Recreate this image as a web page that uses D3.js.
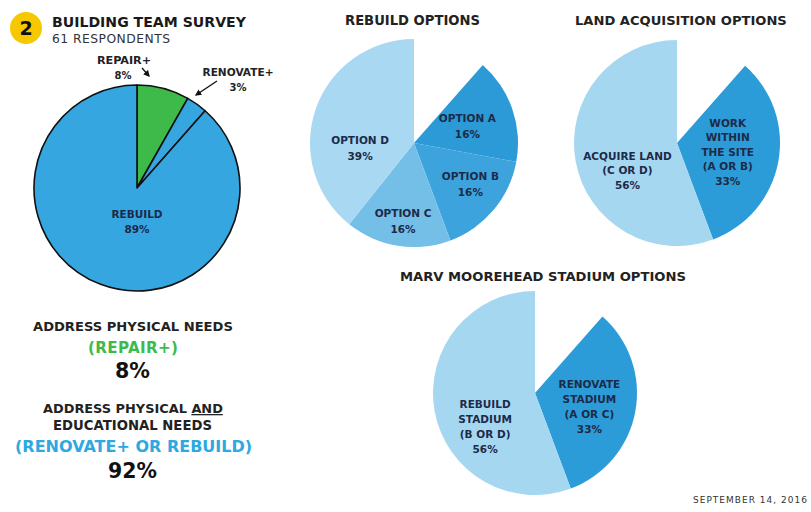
<!DOCTYPE html>
<html>
<head>
<meta charset="utf-8">
<script src="https://cdn.jsdelivr.net/npm/d3@7"></script>
<style>
  body { margin: 0; background: #fff; }
  text { font-family: "DejaVu Sans", "Open Sans", sans-serif; font-weight: 700; }
</style>
</head>
<body>
<div id="vis"></div>
<script>
// survey data (percent of 61 respondents)
const surveyCats = ["REPAIR+", "RENOVATE+", "REBUILD"];
const surveyVals = [8.2, 3.3, 88.5];

const rebuildCats = ["OPTION A", "OPTION B", "OPTION C", "OPTION D"];
const rebuildVals = [16.4, 16.4, 16.4, 39.3];

const landCats = ["WORK|WITHIN|THE SITE|(A OR B)", "ACQUIRE LAND|(C OR D)"];
const landVals = [32.8, 55.7];

const stadiumCats = ["RENOVATE|STADIUM|(A OR C)", "REBUILD|STADIUM|(B OR D)"];
const stadiumVals = [32.8, 55.7];

const W = 811, H = 512;
const navy = "#1d2a48";

const svg = d3.select("#vis").append("svg")
    .attr("width", W)
    .attr("height", H);

// grow the font a bit first, then use letter spacing for what is left,
// so the text covers about the same width as in the original
function fit(sel, w, maxScale) {
    maxScale = maxScale || 1.12;
    let node = sel.node();
    let fs = parseFloat(sel.style("font-size"));
    let natural = node.getComputedTextLength();
    let k = Math.min(Math.max(w / natural, 0.85), maxScale);
    sel.style("font-size", (fs * k).toFixed(2) + "px");
    natural = node.getComputedTextLength();
    if (Math.abs(natural - w) > 2) {
        sel.attr("textLength", w).attr("lengthAdjust", "spacing");
    }
    return sel;
}

// draws a pie that may not add up to 100, the missing part is left blank at 12 o'clock
function drawPie(cats, vals, colors, cx, cy, r, opts) {
    let total = d3.sum(vals);
    let start = opts.full ? 0 : 2 * Math.PI * (1 - total / 100);
    let pie = d3.pie().sort(null).startAngle(start).endAngle(2 * Math.PI);
    let arcs = pie(vals);
    let arc = d3.arc().innerRadius(0).outerRadius(r);

    let g = svg.append("g").attr("transform", "translate(" + cx + "," + cy + ")");
    g.selectAll("path")
        .data(arcs)
        .enter().append("path")
        .attr("d", arc)
        .attr("fill", (d, i) => colors[i])
        .attr("stroke", opts.stroke || "none")
        .attr("stroke-width", opts.stroke ? 1.6 : 0)
        .attr("stroke-linejoin", "round");

    arcs.forEach(function (d, i) {
        if (opts.skipLabel && opts.skipLabel.indexOf(i) >= 0) return;
        let lr = opts.labelR[i] * r;
        let a = opts.labelA ? opts.labelA[i] * Math.PI / 180 : (d.startAngle + d.endAngle) / 2;
        let x = Math.sin(a) * lr, y = -Math.cos(a) * lr;
        let lines = cats[i].split("|").concat([Math.round(vals[i]) + "%"]);
        let lh = opts.lineH || 15;
        let t = g.append("text")
            .attr("text-anchor", "middle")
            .attr("fill", opts.labelColor || navy)
            .style("font-size", (opts.fontSize || 10.5) + "px");
        lines.forEach(function (s, k) {
            t.append("tspan")
                .attr("x", x)
                .attr("y", y + (k - (lines.length - 1) / 2) * lh + 4)
                .text(s);
        });
    });
    return g;
}

// header
svg.append("circle").attr("cx", 26).attr("cy", 28).attr("r", 16).attr("fill", "#f6c800");
svg.append("text").attr("x", 26).attr("y", 35).attr("text-anchor", "middle")
    .style("font-size", "19px").attr("fill", "#111").text("2");
fit(svg.append("text").attr("x", 52).attr("y", 27).style("font-size", "14.5px").attr("fill", "#1a1a1a")
    .text("BUILDING TEAM SURVEY"), 194);
fit(svg.append("text").attr("x", 52).attr("y", 43).style("font-size", "11px").attr("fill", "#333")
    .style("font-weight", 400).text("61 RESPONDENTS"), 118);

// main survey pie
drawPie(surveyCats, surveyVals, ["#3dba49", "#35a6e0", "#35a6e0"], 137, 188, 103,
    {full: true, stroke: "#111", labelR: [0, 0, 0.33], labelA: [0, 0, 180], skipLabel: [0, 1], fontSize: 10.5});

// callout labels for the small slices
const callout = svg.append("g").attr("text-anchor", "middle").attr("fill", "#222").style("font-size", "10px");
fit(callout.append("text").attr("x", 124).attr("y", 64).text(surveyCats[0]), 55);
callout.append("text").attr("x", 123).attr("y", 79).text(Math.round(surveyVals[0]) + "%");
fit(callout.append("text").attr("x", 238).attr("y", 76).text(surveyCats[1]), 71);
callout.append("text").attr("x", 238).attr("y", 91).text(Math.round(surveyVals[1]) + "%");

svg.append("defs").append("marker")
    .attr("id", "ah").attr("viewBox", "0 0 10 10").attr("refX", 8).attr("refY", 5)
    .attr("markerWidth", 5).attr("markerHeight", 5).attr("orient", "auto")
    .append("path").attr("d", "M0,0L10,5L0,10z").attr("fill", "#111");
svg.append("line").attr("x1", 142).attr("y1", 68).attr("x2", 149).attr("y2", 76)
    .attr("stroke", "#111").attr("stroke-width", 1.3).attr("marker-end", "url(#ah)");
svg.append("line").attr("x1", 217).attr("y1", 81).attr("x2", 196).attr("y2", 95)
    .attr("stroke", "#111").attr("stroke-width", 1.3).attr("marker-end", "url(#ah)");

// chart titles
const titles = svg.append("g").attr("fill", "#222");
fit(titles.append("text").attr("x", 345).attr("y", 25).style("font-size", "12.5px").text("REBUILD OPTIONS"), 135);
fit(titles.append("text").attr("x", 575).attr("y", 25).style("font-size", "12.5px").text("LAND ACQUISITION OPTIONS"), 212);
fit(titles.append("text").attr("x", 400).attr("y", 281).style("font-size", "12.5px").text("MARV MOOREHEAD STADIUM OPTIONS"), 286);

// rebuild options
drawPie(rebuildCats, rebuildVals, ["#2b9ad7", "#3ca3dc", "#74bfe8", "#a8d8f2"], 414, 143, 104,
    {labelR: [0.54, 0.67, 0.76, 0.52], labelA: [72, 126, 188, 265], lineH: 16});

// land acquisition options
drawPie(landCats, landVals, ["#2c9cd8", "#a6d7f1"], 677, 143, 103,
    {labelR: [0.5, 0.55], labelA: [100, 241], lineH: 14.5});

// stadium options
drawPie(stadiumCats, stadiumVals, ["#2c9cd8", "#a6d7f1"], 535, 393, 102,
    {labelR: [0.55, 0.59], labelA: [104, 236], lineH: 15});

// summary text on the left
const summary = svg.append("g");
fit(summary.append("text").attr("x", 33).attr("y", 331).style("font-size", "12.5px").attr("fill", "#222")
    .text("ADDRESS PHYSICAL NEEDS"), 200);
fit(summary.append("text").attr("x", 88).attr("y", 353).style("font-size", "13.5px").attr("fill", "#3dba49")
    .text("(REPAIR+)"), 90);
fit(summary.append("text").attr("x", 115).attr("y", 378).style("font-size", "18.5px").attr("fill", "#111")
    .text(Math.round(surveyVals[0]) + "%"), 35, 1.3);
let t2 = summary.append("text").attr("x", 43).attr("y", 413).style("font-size", "12.5px").attr("fill", "#222");
t2.append("tspan").text("ADDRESS PHYSICAL ");
t2.append("tspan").style("text-decoration", "underline").text("AND");
fit(t2, 180);
fit(summary.append("text").attr("x", 53).attr("y", 430).style("font-size", "12.5px").attr("fill", "#222")
    .text("EDUCATIONAL NEEDS"), 159);
fit(summary.append("text").attr("x", 15).attr("y", 452).style("font-size", "16px").attr("fill", "#2ea8e0")
    .text("(RENOVATE+ OR REBUILD)"), 237);
fit(summary.append("text").attr("x", 108).attr("y", 478).style("font-size", "18.5px").attr("fill", "#111")
    .text(Math.round(surveyVals[1] + surveyVals[2]) + "%"), 49, 1.3);

fit(svg.append("text").attr("x", 693).attr("y", 503)
    .style("font-size", "8px").attr("fill", "#333").style("font-weight", 400).text("SEPTEMBER 14, 2016"), 114);
</script>
</body>
</html>
